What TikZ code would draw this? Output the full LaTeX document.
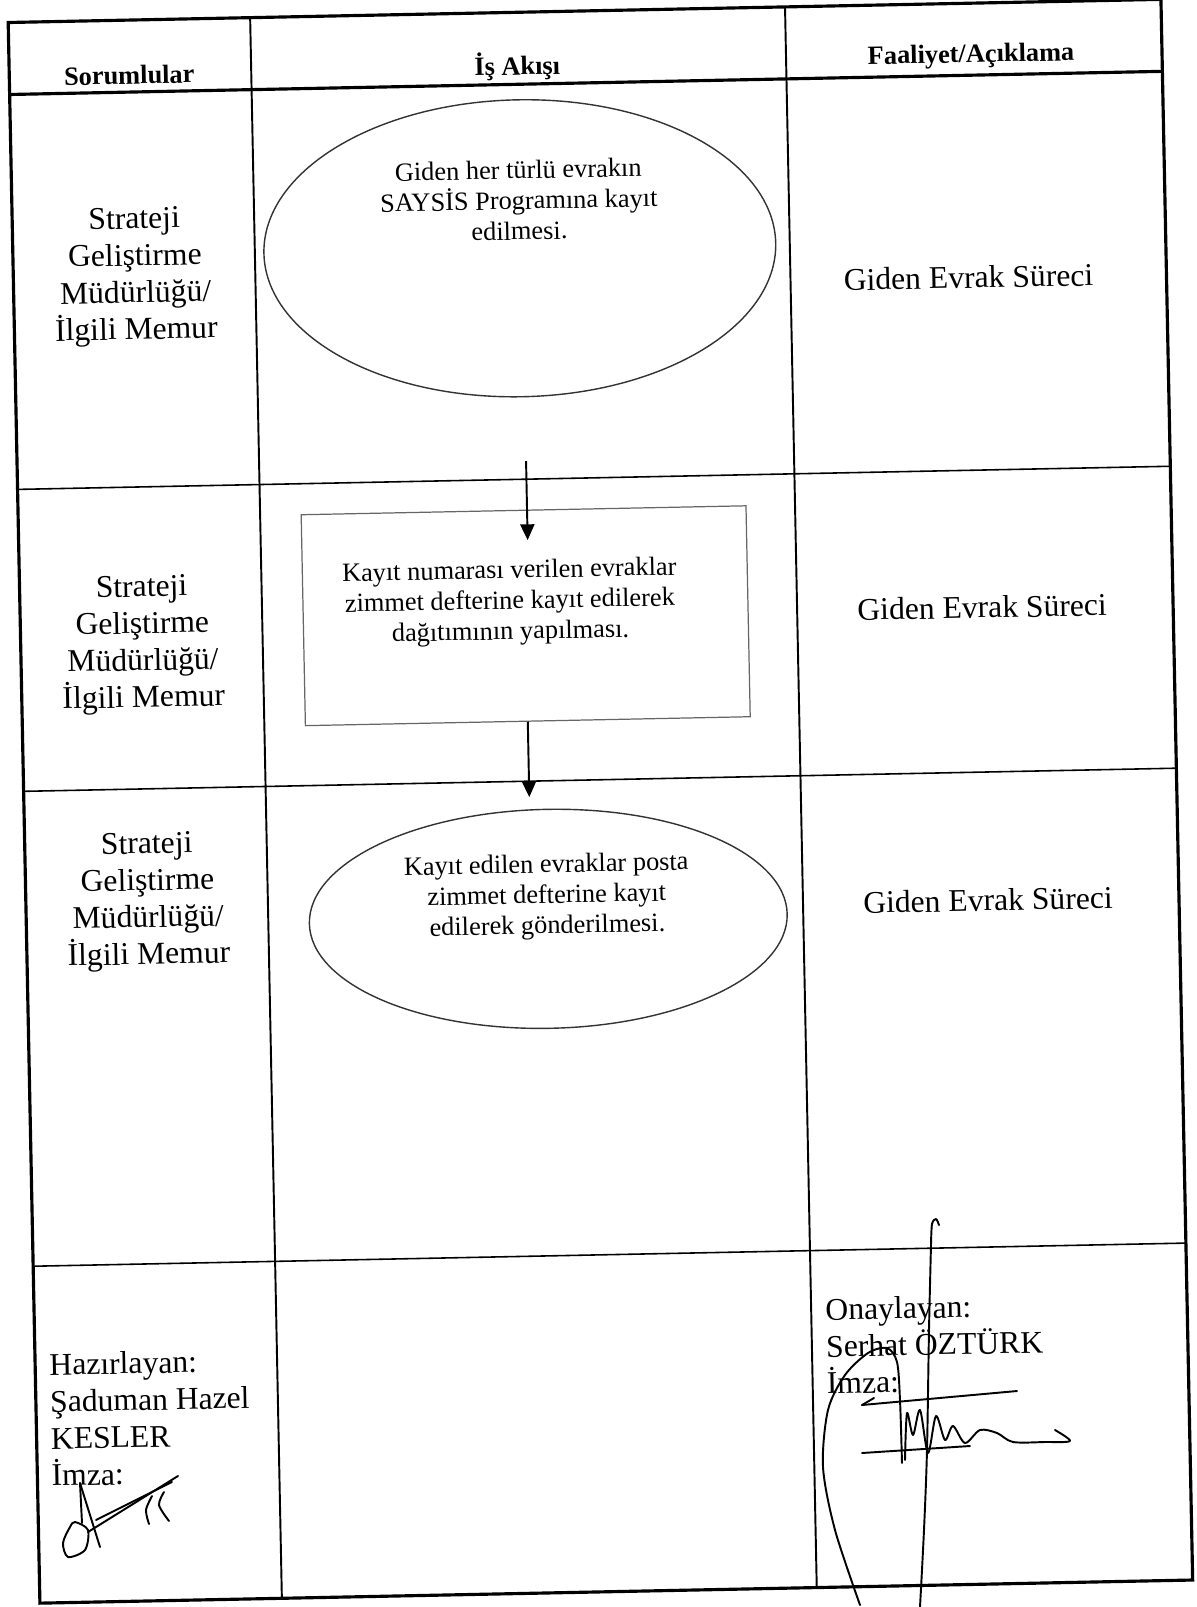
\documentclass[tikz,border=0pt]{standalone}
\usepackage{fontspec}
\setmainfont{Liberation Serif}
\usetikzlibrary{shapes.geometric,arrows.meta}

\begin{document}
\begin{tikzpicture}[
    x=0.02cm, y=-0.02cm,
    frame/.style={line width=1.8pt},
    rule/.style={line width=1.1pt},
    lane/.style={align=center, inner sep=0pt, font=\fontsize{18}{21}\selectfont},
    head/.style={inner sep=0pt, font=\bfseries\fontsize{15}{17}\selectfont},
    task/.style={align=center, inner sep=0pt, font=\fontsize{15}{17.4}\selectfont},
    oval/.style={ellipse, draw=black!80, line width=0.8pt, inner sep=0pt},
    flow/.style={line width=1.1pt, -{Triangle[length=9pt,width=8pt]}},
    ink/.style={line width=1.1pt, line cap=round, line join=round},
]
\useasboundingbox (0,0) rectangle (1197,1607);

\begin{scope}[shift={(8.2,22.5)}, rotate=1.15, transform shape]
% Table
\draw[frame] (0,0) rectangle (1153,1581);
\draw[frame] (0,72) -- (1153,72);
\draw[rule] (242,0) -- (242,1581);
\draw[rule] (777,0) -- (777,1581);
\foreach \r in {467,769,1244}
  \draw[line width=0.9pt] (0,\r) -- (1153,\r);

% Header
\node[head] (hsorum) at (120,55) {Sorumlular};
\node[head] (hakis) at (508,54) {İş Akışı};
\node[head] (hfaal) at (962,53) {Faaliyet/Açıklama};

% Responsible units
\foreach \n/\y in {1/257, 2/625, 3/882}
  \node[lane] (sorum\n) at (122,\y) {Strateji\\Geliştirme\\Müdürlüğü/\\İlgili Memur};

% Activity
\node[lane] (faal1) at (955,274) {Giden Evrak Süreci};
\node[lane] (faal2) at (962,604) {Giden Evrak Süreci};
\node[lane] (faal3) at (962,897) {Giden Evrak Süreci};

% Workflow shapes
\node[
    oval,
    minimum width=10.24cm,
    minimum height=5.94cm
] (kayit) at (507,236) {};
\node[task] (kayitmetin) at (507,188)
  {Giden her türlü evrakın\\SAYSİS Programına kayıt\\edilmesi.};

\node[
    draw=black!60,
    line width=0.7pt,
    minimum width=8.9cm,
    minimum height=4.22cm,
    inner sep=0pt
] (zimmet) at (505.5,603.5) {};
\node[task] (zimmetmetin) at (490,590)
  {Kayıt numarası verilen evraklar\\zimmet defterine kayıt edilerek\\dağıtımının yapılması.};

\node[
    oval,
    minimum width=9.56cm,
    minimum height=4.38cm
] (posta) at (522,907) {};
\node[task] (postametin) at (521,885)
  {Kayıt edilen evraklar posta\\zimmet defterine kayıt\\edilerek gönderilmesi.};

% Arrows
\coordinate (ok1bas) at (509,449);
\coordinate (ok1uc) at (509,528);
\coordinate (ok2uc) at (505.5,785);
\draw[flow] (ok1bas) -- (ok1uc);
\draw[flow] (zimmet.south) -- (ok2uc);

% Signature blocks
\node[lane, align=left, anchor=west] (hazir) at (14,1398)
  {Hazırlayan:\\Şaduman Hazel\\KESLER\\İmza:};
\node[lane, align=left, anchor=west] (onay) at (791,1340)
  {Onaylayan:\\Serhat ÖZTÜRK\\İmza:};
\end{scope}

% Handwritten signatures
\draw[ink] plot[smooth] coordinates {(931,1245) (932,1224) (936,1219) (939,1225)};
\draw[ink] plot[smooth] coordinates {(931,1245) (929,1330) (927,1450) (924,1530) (920,1607)};
\draw[ink] plot[smooth] coordinates {(860,1605) (835,1530) (823,1467) (828,1410) (845,1375) (868,1353) (887,1348) (897,1362) (900,1400) (902,1463)};
\draw[ink] (862,1405) -- (1017,1391);
\draw[ink] (862,1405) -- (874,1398);
\draw[ink] (862,1453) -- (970,1446);
\draw[ink] plot[smooth] coordinates {(905,1460) (907,1413) (913,1435) (920,1410) (928,1453) (936,1416) (945,1440) (953,1426) (965,1443) (980,1430) (997,1433) (1013,1442) (1045,1442) (1070,1441) (1055,1430)};

\draw[ink] (80,1483) -- (82,1523);
\draw[ink] (80,1483) -- (100,1547);
\draw[ink] plot[smooth cycle] coordinates {(75,1522) (88,1530) (85,1550) (68,1557) (63,1543) (70,1527)};
\draw[ink] (88,1532) -- (178,1476);
\draw[ink] (96,1520) -- (172,1482);
\draw[ink] plot[smooth] coordinates {(152,1496) (146,1510) (149,1524)};
\draw[ink] plot[smooth] coordinates {(164,1492) (159,1505) (169,1521)};
\end{tikzpicture}
\end{document}
